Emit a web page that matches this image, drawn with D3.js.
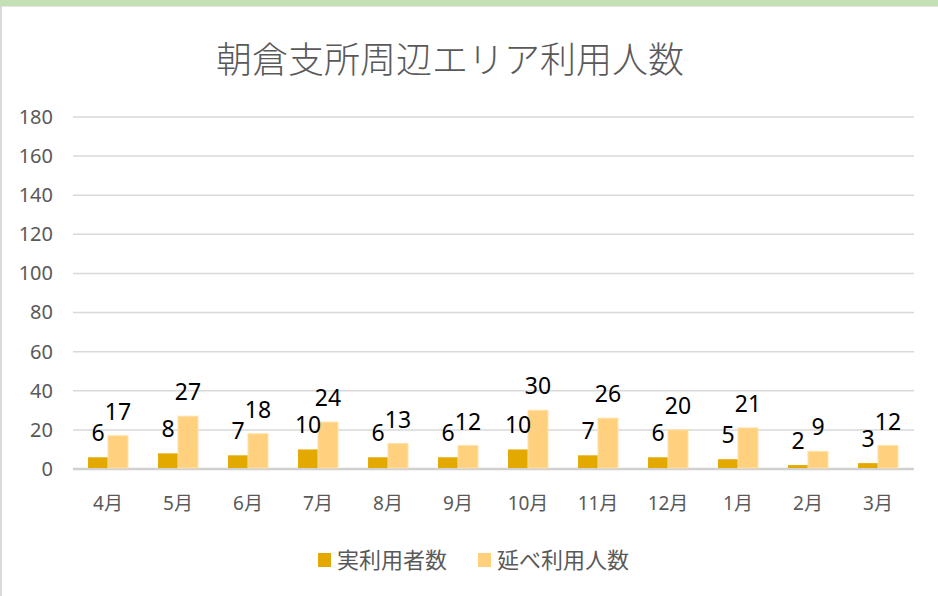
<!DOCTYPE html>
<html>
  <head>
    <meta charset="utf-8">
    <title>朝倉支所周辺エリア利用人数</title>
    <script src="https://d3js.org/d3.v7.min.js" charset="utf-8"></script>
    <style>
      body{
        margin: 0;
        background: #fff;
        font-family: 'Noto Sans', 'Noto Sans CJK JP', sans-serif;
      }
      svg { display: block; }
      .jp { font-family: 'Noto Sans CJK JP', sans-serif; }
    </style>
  </head>
  <body>
    <div id="chart"></div>
    <script>

    // data
    var months = ["4月","5月","6月","7月","8月","9月","10月","11月","12月","1月","2月","3月"];
    var actualUsers = [6, 8, 7, 10, 6, 6, 10, 7, 6, 5, 2, 3];
    var totalUsers = [17, 27, 18, 24, 13, 12, 30, 26, 20, 21, 9, 12];
    var seriesNames = ["実利用者数", "延べ利用人数"];
    var yTicks = [0, 20, 40, 60, 80, 100, 120, 140, 160, 180];

    var colors = ["#E3A900", "#FFD17F"];

    //layout
    var width = 938,
        height = 596,
        margin = {top: 117, right: 24, bottom: 127, left: 73};

    var svg = d3.select("#chart").append("svg").attr("width", width).attr("height", height);

    // frame: green band on top, grey edge on the left
    svg.append("rect").attr("x", 0).attr("y", 0).attr("width", width).attr("height", 6).attr("fill", "#C5E0B4");
    svg.append("line").attr("x1", 0).attr("x2", width).attr("y1", 6.5).attr("y2", 6.5)
        .attr("stroke", "#e6e6e6").attr("stroke-width", 1);
    svg.append("line").attr("x1", 1).attr("x2", 1).attr("y1", 6).attr("y2", height)
        .attr("stroke", "#d9d9d9").attr("stroke-width", 2);

    var yScale = d3.scaleLinear().domain([0, 180]).range([height - margin.bottom, margin.top]);

    var xScale = d3.scaleBand().domain(months)
        .range([margin.left, width - margin.right - 1])
        .paddingInner(0.43).paddingOuter(0.215);

    var xSub = d3.scaleBand().domain([0, 1]).range([0, xScale.bandwidth()]).padding(0);

    // gridlines
    svg.append("g").selectAll("line.grid")
        .data(yTicks).enter().append("line")
        .attr("class", "grid")
        .attr("x1", margin.left).attr("x2", width - margin.right)
        .attr("y1", d => yScale(d)).attr("y2", d => yScale(d))
        .attr("stroke", d => d === 0 ? "#d0d0d0" : "#d9d9d9")
        .attr("stroke-width", d => d === 0 ? 2.5 : 1.5);

    // y axis labels
    var yAxis = svg.append("g").attr("class", "y-axis")
        .attr("transform", `translate(${margin.left - 20}, 0)`)
        .call(d3.axisLeft(yScale).tickValues(yTicks).tickSize(0).tickPadding(0));
    yAxis.select(".domain").remove();
    yAxis.selectAll("text")
        .attr("fill", "#595959")
        .style("font-family", "'Noto Sans', sans-serif")
        .style("font-size", "20px");

    // x axis labels
    var xAxis = svg.append("g").attr("class", "x-axis")
        .attr("transform", `translate(0, ${height - margin.bottom})`)
        .call(d3.axisBottom(xScale).tickSize(0).tickPadding(0));
    xAxis.select(".domain").remove();
    xAxis.selectAll("text")
        .attr("y", 34)
        .attr("dy", "0.35em")
        .attr("fill", "#595959")
        .style("font-family", "'Noto Sans', 'Noto Sans CJK JP', sans-serif")
        .style("font-size", "19px");

    // bars
    var rows = months.map((m, i) => ({month: m, values: [actualUsers[i], totalUsers[i]]}));

    var groups = svg.selectAll("g.month")
        .data(rows).enter().append("g")
        .attr("class", "month")
        .attr("transform", d => `translate(${xScale(d.month)},0)`);

    groups.selectAll("rect")
        .data(d => d.values.map((v, k) => ({k: k, v: v})))
        .enter().append("rect")
        .attr("x", d => xSub(d.k))
        .attr("y", d => yScale(d.v))
        .attr("width", xSub.bandwidth())
        .attr("height", d => yScale(0) - yScale(d.v) - 1)
        .attr("fill", d => colors[d.k])
        .attr("stroke", d => d.k === 1 ? "#FFE0A6" : "none")
        .attr("stroke-width", 1);

    groups.selectAll("text.label")
        .data(d => d.values.map((v, k) => ({k: k, v: v})))
        .enter().append("text")
        .attr("class", "label")
        .attr("x", d => xSub(d.k) + xSub.bandwidth() / 2)
        .attr("y", d => yScale(d.v) - 16)
        .attr("text-anchor", "middle")
        .attr("fill", "#000")
        .style("font-family", "'Noto Sans', sans-serif")
        .style("font-size", "23px")
        .text(d => d.v);

    // title
    svg.append("text")
        .attr("class", "jp")
        .attr("x", 450)
        .attr("y", 60)
        .attr("dy", "0.35em")
        .attr("text-anchor", "middle")
        .attr("fill", "#595959")
        .style("font-size", "36px")
        .style("font-weight", 300)
        .text("朝倉支所周辺エリア利用人数");

    // legend
    var legendX = [318, 478];
    var legend = svg.append("g").attr("class", "legend");

    legend.selectAll("rect")
        .data(seriesNames).enter().append("rect")
        .attr("x", (d, i) => legendX[i])
        .attr("y", 553)
        .attr("width", 13)
        .attr("height", 14)
        .attr("fill", (d, i) => colors[i]);

    legend.selectAll("text")
        .data(seriesNames).enter().append("text")
        .attr("class", "jp")
        .attr("x", (d, i) => legendX[i] + 19)
        .attr("y", 560)
        .attr("dy", "0.35em")
        .attr("fill", "#595959")
        .style("font-size", "22px")
        .text(d => d);

    </script>
  </body>
</html>
